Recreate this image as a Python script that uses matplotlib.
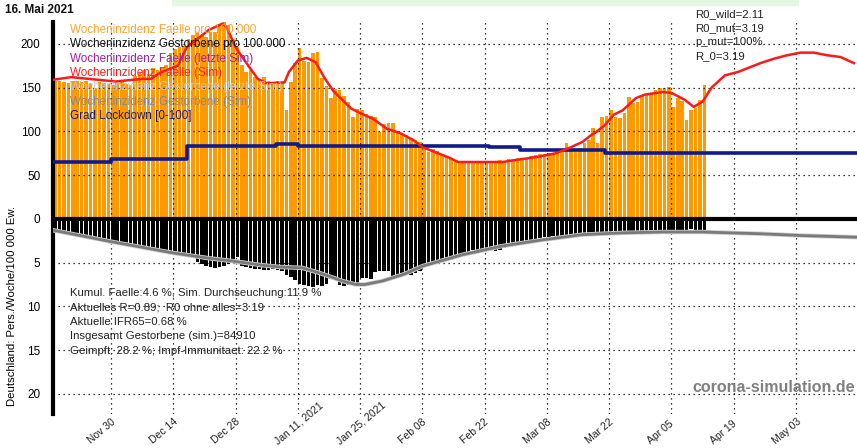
import matplotlib
matplotlib.use('Agg')
import matplotlib.pyplot as plt
import matplotlib.dates as mdates
import numpy as np
from matplotlib.patches import Rectangle
from matplotlib.transforms import ScaledTranslation

plt.rcParams['font.family'] = ['Liberation Sans', 'DejaVu Sans']

# erster Tag der Balken
start = np.datetime64('2020-11-17')

# Wocheninzidenz Faelle pro 100 000 (taeglich ab start)
faelle = [157, 158, 156, 155, 157, 158, 156, 157, 155, 150, 156,
          155, 154, 153, 155, 156, 154, 153,
          163, 167, 170, 165, 172, 170,
          172, 176, 190, 194, 196, 197, 205, 210, 212, 210, 208, 213, 214, 222, 225, 222,
          205, 196, 176, 168, 170, 162, 160, 162, 158, 156, 157, 156,
          124, 156, 178, 195, 180, 179, 190, 191,
          161, 152, 138, 148, 147, 140, 134, 116, 125, 124,
          120, 118, 116, 99, 108, 110, 110, 98, 97, 96, 93, 90, 88,
          80, 76, 80, 78, 74, 72, 68, 66, 65, 66, 65, 65, 64, 66,
          65, 66, 66, 67, 66, 68, 69, 70, 70, 70, 72, 73, 74, 74,
          75, 74, 75, 76, 87, 80, 79, 81, 87, 90, 104, 87, 116, 118,
          124, 116, 115, 121, 139, 132, 133, 141, 142, 144, 147, 149, 150, 151,
          128, 138, 135, 113, 124, 127, 136, 153]

# Wocheninzidenz Gestorbene pro 100 000 (taeglich ab start)
gestorbene = [1.3, 1.4, 1.5, 1.6, 1.7, 1.8, 1.9, 2.0, 2.1, 2.2, 2.3, 2.4, 2.5,
              2.6, 2.7, 2.8, 2.9, 3.0, 3.1, 3.1, 3.2, 3.3, 3.4, 3.5, 3.6, 3.6, 3.7, 3.8,
              3.9, 4.1, 4.3, 4.5,
              4.9, 5.2, 5.4, 5.5, 5.6, 5.5, 5.4, 5.1, 4.7, 4.4,
              5.4, 5.5, 5.6, 5.7, 5.7, 5.8, 5.8, 5.7, 5.8, 6.0, 6.4,
              6.6, 7.0, 7.4, 7.6, 7.7, 7.8, 7.6, 7.7, 7.4, 6.9, 6.8, 7.6, 7.7, 7.5, 7.4, 7.3,
              6.8, 6.7, 6.9, 6.1, 6.0, 5.9, 6.0, 6.6, 6.7, 6.5, 6.3, 6.4, 6.2, 5.9,
              5.4, 5.3, 5.2, 4.8, 4.9, 4.8, 4.7, 4.5, 4.0, 3.9, 3.8,
              3.6, 3.5, 3.4, 3.4, 3.5, 3.7, 3.6, 3.3, 3.0, 2.9, 2.8, 2.6, 2.5, 2.4, 2.3, 2.2, 2.1,
              2.1, 2.0, 2.0, 1.9, 1.9, 2.1, 2.0, 1.8, 1.8, 1.7,
              1.7, 1.6, 1.6, 1.7, 1.6, 1.6, 1.5, 1.5, 1.6, 1.5, 1.5, 1.4, 1.5, 1.5, 1.4, 1.4,
              1.5, 1.4, 1.3, 1.3, 1.4, 1.5, 1.2, 1.3, 1.4, 1.5]

# Simulation Faelle (Tag nach start, Wert)
sim_faelle_tag = [0, 4, 8, 14, 20, 22, 24, 26, 28, 30, 33, 35, 38, 39, 41, 44, 46, 48,
                  52, 53, 55, 57, 59, 61, 63, 67, 69, 72, 75, 78, 81, 83, 86, 89, 91,
                  96, 101, 105, 109, 113, 116, 119, 121, 122, 124, 126, 128, 131, 133,
                  137, 139, 142, 144, 146, 148, 151, 154, 156, 159, 162, 165, 168, 171,
                  174, 177, 180]
sim_faelle = [159, 162, 160, 157, 160, 160, 167, 171, 175, 196, 208, 216, 223, 219, 196, 174, 160, 155,
              156, 168, 181, 184, 179, 161, 146, 126, 121, 114, 103, 98, 90, 82, 76, 70, 65,
              65, 65, 68, 71, 75, 81, 88, 96, 99, 107, 119, 124, 138, 142,
              145, 144, 136, 128, 134, 150, 164, 168, 172, 178, 183, 187, 190, 190,
              187, 185, 178]

# Simulation Gestorbene
sim_tote_tag = [0, 13, 27, 35, 40, 47, 51, 56, 60, 65, 68, 70, 74, 79, 83, 92, 101,
                110, 119, 128, 137, 146, 159, 168, 181]
sim_tote = [1.3, 2.6, 3.9, 4.5, 4.8, 5.3, 5.5, 5.6, 6.2, 7.1, 7.5, 7.5, 7.1, 6.3, 5.4, 4.1, 3.1,
            2.4, 1.8, 1.6, 1.5, 1.5, 1.7, 1.9, 2.1]

# Grad Lockdown [0-100]
lock_tag = [0, 13, 30, 50, 55, 98, 105, 124, 181]
lock_wert = [65, 68, 83, 86, 83, 82, 79, 75, 75]

tick_daten = ['2020-11-30', '2020-12-14', '2020-12-28', '2021-01-11', '2021-01-25', '2021-02-08',
              '2021-02-22', '2021-03-08', '2021-03-22', '2021-04-05', '2021-04-19', '2021-05-03']
tick_texte = ['Nov 30', 'Dec 14', 'Dec 28', 'Jan 11, 2021', 'Jan 25, 2021', 'Feb 08',
              'Feb 22', 'Mar 08', 'Mar 22', 'Apr 05', 'Apr 19', 'May 03']

legende = ['Wocheninzidenz Faelle pro 100 000', 'Wocheninzidenz Gestorbene pro 100 000',
           'Wocheninzidenz Faelle (letzte Sim)', 'Wocheninzidenz Faelle (Sim)',
           'Wocheninzidenz Gestorbene (letzte Sim)', 'Wocheninzidenz Gestorbene (Sim)',
           'Grad Lockdown [0-100]']
legende_farben = ['#ffa530', '#111111', '#a020a0', '#ff2020', '#c8c8c8', '#888888', '#1a1a70']

info = ['Kumul. Faelle:4.6 %, Sim. Durchseuchung:11.9 %',
        'Aktuelles R=0.89;  R0 ohne alles=3.19',
        'Aktuelle IFR65=0.68 %',
        'Insgesamt Gestorbene (sim.)=84910',
        'Geimpft: 28.2 %; Impf-Immunitaet: 22.2 %']
parameter = ['R0_wild=2.11', 'R0_mut=3.19', 'p_mut=100%', 'R_0=3.19']


def tage(offsets):
    return mdates.date2num(start + np.array(offsets, dtype='timedelta64[D]'))


fig = plt.figure(figsize=(8.57, 4.48), dpi=100)
ax = fig.add_axes([53 / 857, 34 / 448, 804 / 857, 392 / 448])

x_bar = tage(np.arange(len(faelle)))
ax.bar(x_bar, faelle, width=0.8, align='edge', color='#ff9900', zorder=1)
ax.bar(x_bar, -10 * np.array(gestorbene), width=0.8, align='edge', color='black', zorder=1)

ax.step(tage(lock_tag), lock_wert, where='post', color='#101a8c', lw=2.6, zorder=3)
ax.plot(tage(sim_faelle_tag), sim_faelle, color='#ff1a1a', lw=1.8, zorder=4)
ax.plot(tage(sim_tote_tag), -10 * np.array(sim_tote), color='#cfcfcf', lw=3.2, zorder=4)
ax.plot(tage(sim_tote_tag), -10 * np.array(sim_tote), color='#7a7a7a', lw=2.0, zorder=4)
ax.axhline(0, color='black', lw=3, zorder=5)

links = mdates.date2num(np.datetime64('2020-11-17')) - 0.05
ax.set_xlim(links, links + 804 / 4.448)
ax.set_ylim(-223, 225)

x_ticks = mdates.date2num(np.array(tick_daten, dtype='datetime64[D]'))
ax.set_xticks(x_ticks)
ax.set_xticklabels([])
ax.set_yticks([-200, -150, -100, -50, 0, 50, 100, 150, 200])
ax.set_yticklabels(['20', '15', '10', '5', '0', '50', '100', '150', '200'], fontsize=8.5)
ax.tick_params(length=0)
ax.tick_params(axis='y', pad=9)

# Datumsbeschriftung schraeg, beginnt links unterhalb des Ticks
versatz = ScaledTranslation(-19 / 100, -32 / 100, fig.dpi_scale_trans)
for xt, txt in zip(x_ticks, tick_texte):
    ax.text(xt, 0, txt, transform=ax.get_xaxis_transform() + versatz, rotation=40,
            rotation_mode='anchor', ha='left', va='bottom', fontsize=7.5, color='#222222')

ax.set_axisbelow(False)
ax.grid(True, color='black', lw=0.9, ls=(0, (1, 3)))
for s in ['top', 'right', 'bottom']:
    ax.spines[s].set_visible(False)
ax.spines['left'].set_linewidth(3)

# Legende als farbiger Text
for i, (txt, col) in enumerate(zip(legende, legende_farben)):
    ax.text(0.021, 0.9796 - i * 0.0365, txt, color=col, fontsize=8.4,
            transform=ax.transAxes, va='center', ha='left', zorder=6)

for i, txt in enumerate(info):
    ax.text(0.021, 1 - (293 - 22) / 392 - i * 0.0368, txt, color='#222222', fontsize=8.2,
            transform=ax.transAxes, va='center', ha='left', zorder=6)

for i, txt in enumerate(parameter):
    fig.text(695 / 857, 1 - 14 / 448 - i * 14.2 / 448, txt, color='#222222', fontsize=8.2,
             va='center', ha='left')

fig.text(855 / 857, 1 - 387 / 448, 'corona-simulation.de', color='#808080', fontsize=11.5,
         fontweight='bold', ha='right', va='center')
fig.text(5 / 857, 1 - 10 / 448, '16. Mai 2021', fontsize=8.5, color='#111111',
         fontweight='semibold', va='center', ha='left')
fig.text(12 / 857, 1 - 306 / 448, 'Deutschland: Pers./Woche/100 000 Ew.', rotation=90,
         fontsize=8.2, va='center', ha='center')

fig.patches.append(Rectangle((172 / 857, 1 - 5 / 448), 626 / 857, 5 / 448,
                             transform=fig.transFigure, color='#e2f8e0', zorder=0))

fig.savefig('out.png', dpi=100)
